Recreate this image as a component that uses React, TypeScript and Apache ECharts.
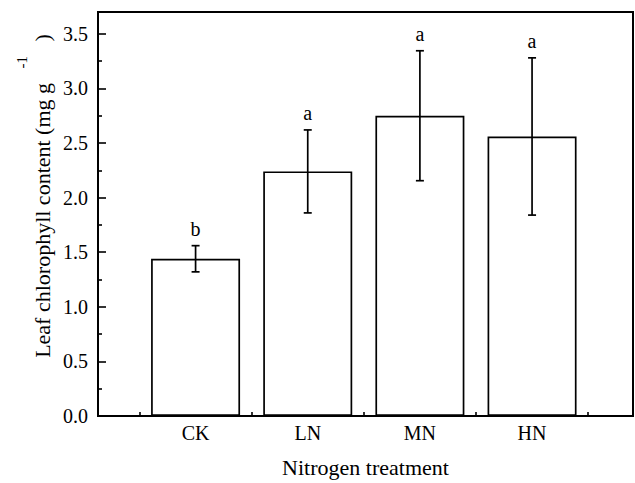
import React, { useEffect, useRef } from "react";
import * as echarts from "echarts";

const categories = ["CK", "LN", "MN", "HN"];
const xPositions = [1, 2, 3, 4];
const means = [1.44, 2.24, 2.75, 2.56];
const errors = [0.12, 0.38, 0.595, 0.72];
const letters = ["b", "a", "a", "a"];
const yTicks = [0, 0.5, 1, 1.5, 2, 2.5, 3, 3.5];
const yMinorTicks = [0.25, 0.75, 1.25, 1.75, 2.25, 2.75, 3.25];
const xMinorTicks = [0.5, 1.5, 2.5, 3.5, 4.5];

const FONT = "Liberation Serif";
const X_MIN = 0.13;
const X_MAX = 4.9;
const Y_MIN = 0;
const Y_MAX = 3.7;

export default function App() {
  const ref = useRef<HTMLDivElement>(null);

  useEffect(() => {
    if (!ref.current) return;
    const chart = echarts.init(ref.current, undefined, { renderer: "svg" });

    const barData = xPositions.map((x, i) => [x, means[i]]);
    const errData = xPositions.map((x, i) => [x, means[i] - errors[i], means[i] + errors[i]]);

    const option: any = {
      animation: false,
      backgroundColor: "#fff",
      textStyle: { fontFamily: FONT },
      grid: {
        left: 98,
        top: 12,
        right: 2,
        bottom: 66,
        show: true,
        borderColor: "#000",
        borderWidth: 2,
      },
      xAxis: [
        {
          type: "value",
          min: X_MIN,
          max: X_MAX,
          position: "bottom",
          name: "Nitrogen treatment",
          nameLocation: "middle",
          nameGap: 40,
          nameTextStyle: { fontFamily: FONT, fontSize: 22, color: "#000" },
          axisLine: { show: true, lineStyle: { color: "#000", width: 2 } },
          axisTick: {
            show: true,
            inside: true,
            length: 7,
            customValues: xPositions,
            lineStyle: { color: "#000", width: 1.6 },
          },
          axisLabel: {
            show: true,
            customValues: xPositions,
            margin: 7,
            fontFamily: FONT,
            fontSize: 20,
            color: "#000",
            formatter: (v: number) => categories[Math.round(v) - 1] ?? "",
          },
          splitLine: { show: false },
        },
        {
          type: "value",
          min: X_MIN,
          max: X_MAX,
          position: "bottom",
          axisLine: { show: false },
          axisTick: {
            show: true,
            inside: true,
            length: 4,
            customValues: xMinorTicks,
            lineStyle: { color: "#000", width: 1.6 },
          },
          axisLabel: { show: false },
          splitLine: { show: false },
        },
      ],
      yAxis: [
        {
          type: "value",
          min: Y_MIN,
          max: Y_MAX,
          position: "left",
          axisLine: { show: true, lineStyle: { color: "#000", width: 2 } },
          axisTick: {
            show: true,
            inside: true,
            length: 8,
            customValues: yTicks,
            lineStyle: { color: "#000", width: 1.6 },
          },
          axisLabel: {
            show: true,
            customValues: yTicks,
            margin: 10,
            fontFamily: FONT,
            fontSize: 20,
            color: "#000",
            formatter: (v: number) => v.toFixed(1),
          },
          splitLine: { show: false },
        },
        {
          type: "value",
          min: Y_MIN,
          max: Y_MAX,
          position: "left",
          axisLine: { show: false },
          axisTick: {
            show: true,
            inside: true,
            length: 4,
            customValues: yMinorTicks,
            lineStyle: { color: "#000", width: 1.6 },
          },
          axisLabel: { show: false },
          splitLine: { show: false },
        },
      ],
      series: [
        {
          type: "bar",
          xAxisIndex: 0,
          yAxisIndex: 0,
          z: 2,
          data: barData,
          barWidth: 89,
          itemStyle: { color: "#fff", borderColor: "#000", borderWidth: 1.7 },
          emphasis: { disabled: true },
        },
        {
          type: "custom",
          xAxisIndex: 0,
          yAxisIndex: 0,
          z: 5,
          data: errData,
          renderItem: (params: any, api: any) => {
            const x = api.value(0);
            const lo = api.value(1);
            const hi = api.value(2);
            const pHi = api.coord([x, hi]);
            const pLo = api.coord([x, lo]);
            const cap = 4;
            const ls = { stroke: "#000", lineWidth: 1.7 };
            return {
              type: "group",
              children: [
                { type: "line", shape: { x1: pHi[0], y1: pHi[1], x2: pLo[0], y2: pLo[1] }, style: ls },
                { type: "line", shape: { x1: pHi[0] - cap, y1: pHi[1], x2: pHi[0] + cap, y2: pHi[1] }, style: ls },
                { type: "line", shape: { x1: pLo[0] - cap, y1: pLo[1], x2: pLo[0] + cap, y2: pLo[1] }, style: ls },
                {
                  type: "text",
                  x: pHi[0],
                  y: pHi[1] - 17,
                  style: {
                    text: letters[params.dataIndex],
                    fontFamily: FONT,
                    fontSize: 20,
                    fill: "#000",
                    align: "center",
                    verticalAlign: "middle",
                  },
                },
              ],
            };
          },
        },
      ],
      graphic: [
        {
          type: "text",
          x: 42.6,
          y: 196,
          rotation: Math.PI / 2,
          style: {
            text: "{m|Leaf chlorophyll content (mg g }{s|-1}{m| )}",
            align: "center",
            verticalAlign: "middle",
            fill: "#000",
            fontFamily: FONT,
            rich: {
              m: { fontFamily: FONT, fontSize: 22, lineHeight: 56, fill: "#000" },
              s: {
                fontFamily: FONT,
                fontSize: 15,
                lineHeight: 15,
                verticalAlign: "top",
                padding: [0, 9, 0, 9],
                fill: "#000",
              },
            },
          },
        },
      ],
    };

    chart.setOption(option);
    return () => chart.dispose();
  }, []);

  return (
    <div
      ref={ref}
      style={{ position: "fixed", left: 0, top: 0, width: 635, height: 483, background: "#fff" }}
    />
  );
}
